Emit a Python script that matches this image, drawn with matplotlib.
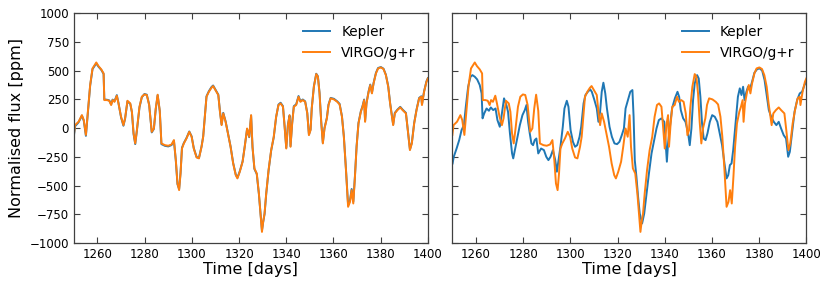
import matplotlib
matplotlib.use("Agg")
import matplotlib.pyplot as plt
import numpy as np

# VIRGO/g+r light curve (same in both panels)
virgo_time = [1250.0, 1250.5, 1252.0, 1253.4, 1254.2, 1255.1, 1256.0, 1256.9, 1257.9, 1258.8,
              1259.5, 1260.4, 1261.6, 1262.6, 1262.9, 1264.0, 1265.0, 1265.8, 1266.4, 1267.2,
              1268.2, 1268.9, 1270.0, 1271.0, 1271.7, 1272.7, 1273.9, 1274.6, 1275.3, 1276.0,
              1276.7, 1277.8, 1278.8, 1279.9, 1280.9, 1281.9, 1283.0, 1283.9, 1284.7, 1285.5,
              1286.4, 1287.1, 1288.6, 1290.0, 1291.4, 1292.4, 1293.2, 1293.9, 1294.6, 1295.2,
              1295.8, 1296.6, 1297.7, 1298.9, 1299.9, 1300.8, 1302.0, 1303.0, 1304.1, 1304.8,
              1305.5, 1306.2, 1307.2, 1308.3, 1309.0, 1310.0, 1311.2, 1311.9, 1312.6, 1313.3,
              1314.3, 1315.4, 1316.4, 1317.5, 1318.6, 1319.3, 1320.3, 1321.5, 1322.4, 1323.4,
              1324.3, 1325.1, 1325.7, 1326.5, 1327.5, 1328.4, 1329.1, 1329.7, 1330.2, 1330.8,
              1331.5, 1332.5, 1333.6, 1334.7, 1335.7, 1336.7, 1337.6, 1338.6, 1339.3, 1340.0,
              1340.7, 1341.4, 1341.8, 1342.5, 1343.2, 1344.2, 1345.2, 1346.0, 1347.0, 1348.0,
              1348.9, 1349.6, 1350.3, 1350.8, 1351.7, 1352.7, 1353.4, 1354.1, 1354.8, 1355.5,
              1356.2, 1357.2, 1357.9, 1358.8, 1360.2, 1361.6, 1362.6, 1363.6, 1364.4, 1365.3,
              1366.2, 1367.0, 1367.7, 1368.4, 1369.1, 1369.8, 1370.6, 1371.6, 1372.3, 1373.0,
              1373.4, 1374.0, 1374.9, 1375.6, 1376.3, 1377.0, 1378.0, 1378.9, 1380.1, 1381.2,
              1382.2, 1383.2, 1384.0, 1384.7, 1385.3, 1386.0, 1387.1, 1388.3, 1389.3, 1390.7,
              1391.5, 1392.4, 1393.2, 1394.2, 1395.2, 1396.3, 1397.2, 1397.5, 1398.4, 1399.4,
              1400.0]
virgo_flux = [-60, 25, 55, 112, 69, -60, 156, 374, 518, 547,
              570, 539, 510, 475, 243, 243, 237, 200, 243, 228,
              281, 214, 98, 25, 84, 237, 214, 141, -47, -134,
              -18, 185, 272, 292, 287, 200, -33, -4, 170, 290,
              150, -134, -149, -154, -143, -105, -279, -482, -540, -395,
              -178, -134, -91, -33, -76, -178, -256, -264, -163, -76,
              98, 272, 315, 350, 365, 330, 287, 141, 25, 127,
              54, -62, -163, -308, -410, -438, -380, -293, -163, -4,
              -76, 112, -163, -351, -395, -569, -743, -903, -816, -743,
              -569, -366, -192, -76, 98, 200, 214, 185, 11, -178,
              25, 112, -163, 40, 185, 200, 272, 228, 243, 228,
              127, -62, -18, 170, 359, 469, 446, 301, 54, -134,
              -4, 84, 200, 258, 249, 228, 205, 98, -76, -366,
              -685, -642, -540, -656, -424, -163, 40, 141, 185, 243,
              54, 214, 315, 374, 301, 388, 475, 518, 527, 513,
              460, 359, 214, 112, 25, 127, 156, 179, 156, 127,
              -18, -192, -134, 40, 156, 258, 272, 200, 315, 402,
              431]

# Kepler after fitting (left panel), almost on top of VIRGO
kepler_fit_flux = [-70, 15, 50, 108, 64, -68, 150, 368, 512, 540,
                   562, 534, 506, 470, 248, 246, 240, 205, 247, 232,
                   286, 218, 92, 20, 80, 232, 210, 136, -52, -140,
                   -24, 180, 268, 296, 290, 204, -38, -8, 166, 286,
                   146, -140, -155, -160, -148, -110, -284, -488, -530, -390,
                   -172, -130, -88, -30, -72, -174, -252, -260, -160, -72,
                   102, 276, 320, 356, 370, 334, 290, 146, 30, 132,
                   58, -58, -160, -304, -405, -432, -376, -290, -160, -8,
                   -80, 108, -168, -356, -400, -574, -748, -890, -820, -748,
                   -574, -370, -196, -80, 94, 204, 220, 190, 16, -172,
                   30, 108, -158, 44, 190, 206, 278, 232, 248, 232,
                   132, -56, -12, 174, 362, 472, 450, 306, 58, -128,
                   0, 88, 204, 262, 254, 232, 210, 102, -72, -360,
                   -670, -630, -530, -640, -418, -158, 44, 146, 190, 248,
                   60, 218, 320, 378, 306, 392, 480, 522, 530, 516,
                   464, 364, 218, 116, 30, 132, 160, 184, 160, 132,
                   -14, -186, -130, 44, 160, 262, 276, 206, 320, 406,
                   434]

# Kepler raw light curve (right panel)
kepler_time = [1250.1, 1250.6, 1251.8, 1252.9, 1253.9, 1254.9, 1255.7, 1256.7, 1257.7, 1258.5,
               1259.5, 1260.5, 1261.6, 1262.4, 1262.8, 1263.5, 1264.5, 1265.5, 1266.3, 1267.3,
               1268.3, 1269.1, 1270.1, 1270.8, 1271.9, 1272.9, 1273.6, 1274.4, 1275.3, 1275.8,
               1276.5, 1277.6, 1278.6, 1279.7, 1280.7, 1281.4, 1282.1, 1282.8, 1283.5, 1284.2,
               1284.9, 1285.6, 1286.4, 1287.6, 1288.8, 1289.8, 1290.7, 1291.6, 1292.6, 1293.6,
               1294.3, 1295.0, 1295.8, 1296.8, 1297.5, 1298.5, 1299.2, 1300.1, 1301.1, 1302.0,
               1302.9, 1303.9, 1304.6, 1305.6, 1306.4, 1307.4, 1308.4, 1309.1, 1310.2, 1311.2,
               1311.9, 1312.6, 1313.3, 1314.0, 1314.8, 1315.5, 1316.6, 1317.6, 1318.7, 1319.8,
               1320.8, 1321.8, 1322.7, 1323.4, 1324.4, 1325.4, 1326.3, 1326.8, 1327.3, 1328.0,
               1328.7, 1329.4, 1330.4, 1331.3, 1332.3, 1333.3, 1334.4, 1335.5, 1336.5, 1337.5,
               1338.6, 1339.8, 1340.5, 1340.9, 1341.4, 1342.2, 1343.1, 1344.3, 1345.4, 1346.1,
               1346.8, 1347.8, 1348.8, 1349.9, 1350.6, 1351.3, 1352.0, 1352.7, 1353.7, 1354.4,
               1355.1, 1355.8, 1356.5, 1357.3, 1358.1, 1359.1, 1360.1, 1361.2, 1362.3, 1363.3,
               1364.3, 1365.3, 1366.2, 1366.9, 1367.6, 1368.3, 1369.0, 1370.0, 1371.0, 1371.8,
               1372.5, 1373.2, 1373.8, 1374.6, 1375.3, 1376.0, 1377.0, 1378.0, 1379.2, 1380.3,
               1381.3, 1382.3, 1383.1, 1384.1, 1385.1, 1386.2, 1387.3, 1388.3, 1389.3, 1390.4,
               1391.4, 1392.3, 1393.0, 1394.0, 1395.0, 1396.1, 1397.2, 1398.2, 1399.2, 1400.0]
kepler_flux = [-308, -250, -178, -105, -18, 25, 185, 359, 446, 460,
               446, 423, 374, 301, 84, 127, 170, 150, 179, 156,
               170, 69, 11, 98, 258, 200, 141, -47, -221, -264,
               -192, -76, 25, 112, 156, 200, 54, -47, -134, -149,
               -105, -91, -221, -178, -192, -250, -279, -250, -192, -279,
               -380, -279, -163, 11, 170, 237, 185, -18, -120, -163,
               -149, -76, 11, 214, 287, 315, 336, 315, 243, 170,
               54, 141, 315, 394, 301, 170, 11, -76, -134, -140,
               -120, -62, -4, 170, 243, 315, 330, 98, -279, -424,
               -598, -743, -830, -743, -569, -395, -221, -105, -4, 69,
               84, 54, -163, -293, -134, 11, 170, 258, 315, 272,
               156, 84, 54, -47, -149, -4, 243, 388, 460, 431,
               272, 40, -91, -105, -47, 54, 112, 98, 54, -47,
               -149, -308, -438, -410, -322, -308, -192, 40, 272, 345,
               287, 359, 243, 315, 359, 330, 402, 481, 513, 518,
               498, 417, 301, 156, 98, 54, 25, 54, -4, -62,
               -91, -250, -207, -33, 141, 243, 301, 315, 374, 402]

kepler_color = "#1f77b4"
virgo_color = "#ff7f0e"

plt.rcParams["font.family"] = "DejaVu Sans"

fig = plt.figure(figsize=(8.3, 2.89), dpi=100)
ax1 = fig.add_axes([0.089, 0.159, 0.4265, 0.796])
ax2 = fig.add_axes([0.545, 0.159, 0.4265, 0.796], sharey=ax1)

ax1.plot(virgo_time, kepler_fit_flux, color=kepler_color, lw=1.4, label="Kepler")
ax1.plot(virgo_time, virgo_flux, color=virgo_color, lw=1.4, label="VIRGO/g+r")

ax2.plot(kepler_time, kepler_flux, color=kepler_color, lw=1.4, label="Kepler")
ax2.plot(virgo_time, virgo_flux, color=virgo_color, lw=1.4, label="VIRGO/g+r")

for ax in (ax1, ax2):
    ax.set_xlim(1250, 1400)
    ax.set_ylim(-1000, 1000)
    ax.set_xticks(np.arange(1260, 1401, 20))
    ax.set_yticks(np.arange(-1000, 1001, 250))
    ax.tick_params(direction="in", top=True, right=True, labelsize=8.5,
                   length=4, width=0.8, color="0.25")
    for sp in ax.spines.values():
        sp.set_color("0.25")
        sp.set_linewidth(0.9)
    ax.set_xlabel("Time [days]", fontsize=11.5, labelpad=1)
    ax.legend(loc="upper right", frameon=False, fontsize=9.8, handlelength=2.0)

ax2.tick_params(labelleft=False)
ax1.set_ylabel("Normalised flux [ppm]", fontsize=11.5)

fig.savefig("out.png", dpi=100)
